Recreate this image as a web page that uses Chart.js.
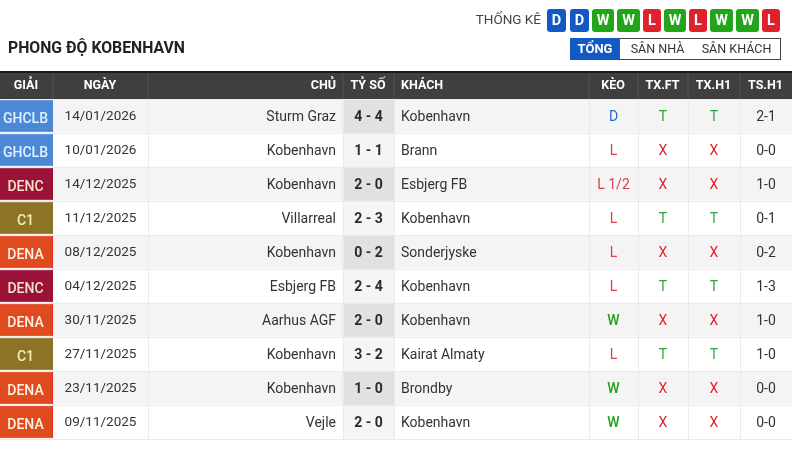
<!DOCTYPE html>
<html><head><meta charset="utf-8">
<style>html,body{margin:0;padding:0;background:#fff}canvas{display:block}</style>
<script src="https://cdn.jsdelivr.net/npm/chart.js@4"></script>
</head><body><canvas id="c" width="800" height="467" style="width:800px;height:467px"></canvas>
<script>
const headers=["GIẢI","NGÀY","CHỦ","TỶ SỐ","KHÁCH","KÈO","TX.FT","TX.H1","TS.H1"];
const leagues=["GHCLB","GHCLB","DENC","C1","DENA","DENC","DENA","C1","DENA","DENA"];
const dates=["14/01/2026","10/01/2026","14/12/2025","11/12/2025","08/12/2025","04/12/2025","30/11/2025","27/11/2025","23/11/2025","09/11/2025"];
const homes=["Sturm Graz","Kobenhavn","Kobenhavn","Villarreal","Kobenhavn","Esbjerg FB","Aarhus AGF","Kobenhavn","Kobenhavn","Vejle"];
const scores=["4 - 4","1 - 1","2 - 0","2 - 3","0 - 2","2 - 4","2 - 0","3 - 2","1 - 0","2 - 0"];
const aways=["Kobenhavn","Brann","Esbjerg FB","Kobenhavn","Sonderjyske","Kobenhavn","Kobenhavn","Kairat Almaty","Brondby","Kobenhavn"];
const keo=["D","L","L 1/2","L","L","L","W","L","W","W"];
const txFT=["T","X","X","T","X","T","X","T","X","X"];
const txH1=["T","X","X","T","X","T","X","T","X","X"];
const tsH1=["2-1","0-0","1-0","0-1","0-2","1-3","1-0","1-0","0-0","0-0"];
const form=["D","D","W","W","L","W","L","W","W","L"];
const title="PHONG ĐỘ KOBENHAVN";
const statLabel="THỐNG KÊ";
const tabs=["TỔNG","SÂN NHÀ","SÂN KHÁCH"];

const edges=[0,53,148,343,394,589,638,688,740,792];
const centers=edges.slice(0,-1).map((e,i)=>(e+edges[i+1])/2);
const leagueColor={GHCLB:"#4c88d8",DENC:"#9a1237",C1:"#8b7425",DENA:"#df4a1e"};
const leagueEdge={GHCLB:"#4a86d8",DENC:"#951034",C1:"#887222",DENA:"#e22b1c"};
const leagueText={GHCLB:"#e3f1ff",DENC:"#f4e3c8",C1:"#f4eeb0",DENA:"#fff2e6"};
const resultColor={D:"#2b6cc4",T:"#36a33f",X:"#dd2230",L:"#d8404c",W:"#24a01f"};
const badgeColor={D:"#1259c3",W:"#22a51b",L:"#e0202b"};
const badgeBox=[[547,566],[570,589],[592,614],[617,640],[643,661],[664,686],[689,707],[710,733],[736,759],[762,780]];
const F="Roboto, sans-serif";

const tablePlugin={id:"table",afterDatasetsDraw(chart){
  const c=chart.ctx,y=chart.scales.y;
  const T=(s,x,yy,font,col,al)=>{c.font=font;c.fillStyle=col;c.textAlign=al||"center";c.textBaseline="middle";c.fillText(s,x,yy);};
  c.save();
  // header
  c.fillStyle="#3f3f3f";c.fillRect(0,72,792,27);
  c.fillStyle="#1c1c1c";c.fillRect(0,71,792,2);
  c.fillStyle="#555";edges.slice(1,-1).forEach(e=>c.fillRect(e-.5,73,1,26));
  headers.forEach((h,i)=>{
    const f="bold 12.5px "+F;
    if(i===2)T(h,336,86,f,"#fff","right");
    else if(i===4)T(h,401,86,f,"#fff","left");
    else T(h,centers[i]-.5,86,f,"#fff");
  });
  // rows
  dates.forEach((d,i)=>{
    const p=y.getPixelForValue(i)+1;
    T(leagues[i],25.5,p+2,"500 14px "+F,leagueText[leagues[i]]);
    T(d,centers[1],p,"13.5px "+F,"#333");
    T(homes[i],336,p,"14px "+F,"#333","right");
    T(scores[i],centers[3],p,"bold 14px "+F,"#2a2a2a");
    T(aways[i],401,p,"14px "+F,"#333","left");
    const k=keo[i][0];
    T(keo[i],centers[5],p,(k==="W"?"500 ":"")+"14px "+F,resultColor[k]);
    T(txFT[i],centers[6],p,"14px "+F,resultColor[txFT[i]]);
    T(txH1[i],centers[7],p,"14px "+F,resultColor[txH1[i]]);
    T(tsH1[i],centers[8],p,"14px "+F,"#333");
  });
  // top matter
  T(title,8,49,"bold 15.8px "+F,"#222","left");
  T(statLabel,541,21,"13.5px "+F,"#444","right");
  form.forEach((r,i)=>{
    const [a,b]=badgeBox[i];
    c.beginPath();c.roundRect(a,9,b-a,23,3);c.fillStyle=badgeColor[r];c.fill();
    T(r,(a+b)/2,21,"bold 14.5px "+F,"#fff");
  });
  c.fillStyle="#fff";c.fillRect(570,38,210,22);
  c.strokeStyle="#444";c.lineWidth=1;c.strokeRect(570.5,38.5,210,21);
  c.fillStyle="#1259c3";c.fillRect(570,38,50,22);
  T(tabs[0],595,49.5,"bold 13px "+F,"#fff");
  T(tabs[1],657.5,49.5,"12.5px "+F,"#333");
  T(tabs[2],736.5,49.5,"12.5px "+F,"#333");
  c.restore();
}};

const span=(a,b)=>dates.map(()=>[a,b]);
new Chart(document.getElementById("c"),{
  type:"bar",
  data:{labels:dates,datasets:[
    {label:"league",data:span(edges[0],edges[1]),backgroundColor:leagues.map(l=>leagueColor[l]),borderColor:leagues.map(l=>leagueEdge[l]),borderWidth:1,barPercentage:.95,categoryPercentage:1,order:1},
    {label:"score",data:span(edges[3],edges[4]),backgroundColor:dates.map((_,i)=>i%2?"#f5f5f5":"#e1e1e1"),barPercentage:1,categoryPercentage:1,order:2},
    {label:"row",data:span(edges[1],edges[9]),backgroundColor:dates.map((_,i)=>i%2?"#ffffff":"#f4f4f4"),barPercentage:1,categoryPercentage:1,order:3}
  ]},
  options:{
    indexAxis:"y",responsive:false,animation:false,devicePixelRatio:1,
    layout:{padding:{top:99,bottom:28,left:0,right:8}},
    plugins:{legend:{display:false},tooltip:{enabled:false},title:{display:false}},
    datasets:{bar:{grouped:false}},
    scales:{
      x:{type:"linear",min:0,max:792,position:"bottom",
        afterBuildTicks:s=>{s.ticks=edges.slice(2,-1).map(v=>({value:v}));},
        ticks:{display:false},border:{display:false},
        grid:{z:1,color:"#ebebeb",drawTicks:false,lineWidth:1}},
      y:{type:"category",offset:true,position:"left",
        ticks:{display:false},border:{display:false},
        grid:{z:1,offset:true,color:"#ebebeb",drawTicks:false,lineWidth:1}}
    }
  },
  plugins:[tablePlugin]
});
</script></body></html>
